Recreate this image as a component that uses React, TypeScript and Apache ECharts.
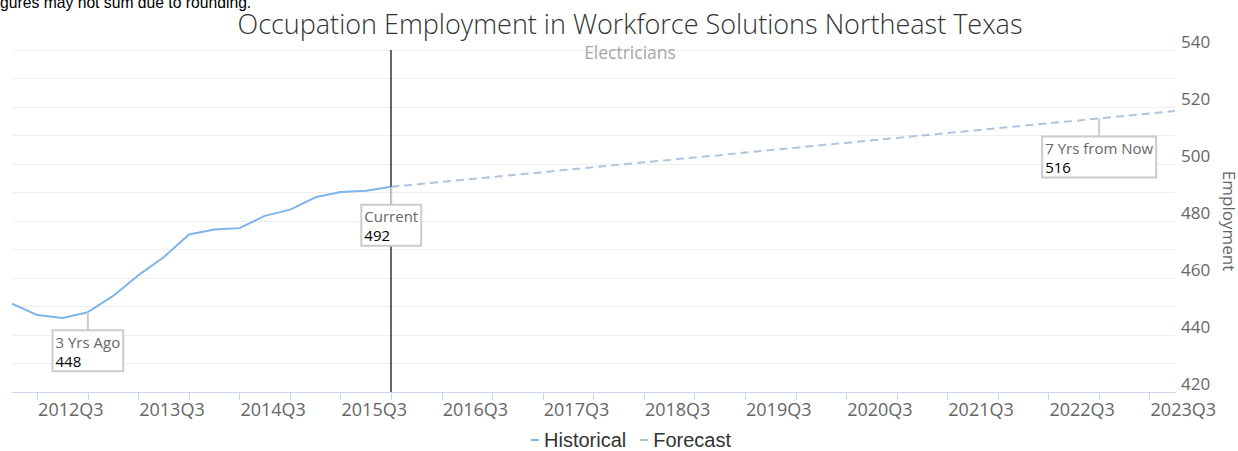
import React, { useEffect, useRef } from "react";
import * as echarts from "echarts";

const TITLE = "Occupation Employment in Workforce Solutions Northeast Texas";
const SUBTITLE = "Electricians";
const NOTE = "Figures may not sum due to rounding.";
const Y_NAME = "Employment";
const LEGEND_NAMES = ["Historical", "Forecast"];

// Quarters on the plotted axis (2011Q4 .. 2023Q2)
const categories = [
  "2011Q4",
  "2012Q1", "2012Q2", "2012Q3", "2012Q4",
  "2013Q1", "2013Q2", "2013Q3", "2013Q4",
  "2014Q1", "2014Q2", "2014Q3", "2014Q4",
  "2015Q1", "2015Q2", "2015Q3", "2015Q4",
  "2016Q1", "2016Q2", "2016Q3", "2016Q4",
  "2017Q1", "2017Q2", "2017Q3", "2017Q4",
  "2018Q1", "2018Q2", "2018Q3", "2018Q4",
  "2019Q1", "2019Q2", "2019Q3", "2019Q4",
  "2020Q1", "2020Q2", "2020Q3", "2020Q4",
  "2021Q1", "2021Q2", "2021Q3", "2021Q4",
  "2022Q1", "2022Q2", "2022Q3", "2022Q4",
  "2023Q1", "2023Q2",
];
// Tick-label axis runs one quarter further (its last label sits past the plot)
const labelCategories = [...categories, "2023Q3"];

// Historical employment, 2011Q4 .. 2015Q3
const historical = [451, 447, 446, 448, 453.7, 461, 467.3, 475.3, 477, 477.5, 481.8, 484, 488.3, 490.2, 490.6, 492];
// Forecast employment, 2015Q3 .. 2023Q2
const forecast = [
  492, 492.9, 493.7, 494.6, 495.4, 496.3, 497.1, 498, 498.9, 499.7, 500.6, 501.4, 502.3, 503.1, 504, 504.9,
  505.7, 506.6, 507.4, 508.3, 509.1, 510, 510.9, 511.7, 512.6, 513.4, 514.3, 515.1, 516, 516.9, 517.7, 518.6,
];

const Y_MIN = 420;
const Y_MAX = 540;
const Y_STEP = 20;

const FONT = "'Open Sans', sans-serif";
const ARIAL = "'Liberation Sans', Arial, sans-serif";

export default function App() {
  const ref = useRef<HTMLDivElement>(null);

  useEffect(() => {
    if (!ref.current) return;
    const chart = echarts.init(ref.current, null, { renderer: "svg" });

    const currentIdx = historical.length - 1;
    const threeAgoIdx = currentIdx - 12;
    const sevenAheadIdx = 28;

    const histData = categories.map((_, i) => (i < historical.length ? historical[i] : null));
    const fcData = categories.map((_, i) => {
      const k = i - currentIdx;
      return k >= 0 && k < forecast.length ? forecast[k] : null;
    });

    const calloutLabel = {
      show: true,
      position: "bottom",
      distance: 0,
      formatter: (p: any) => `{a|${p.name}}\n{b|${Math.round(p.value)}}`,
      backgroundColor: "#ffffff",
      borderColor: "#cccccc",
      borderWidth: 2,
      padding: [1, 2, 0, 2],
      rich: {
        a: { fontFamily: FONT, fontSize: 15, color: "#666666", lineHeight: 19, align: "left" },
        b: { fontFamily: FONT, fontSize: 15, color: "#000000", lineHeight: 19, align: "left" },
      },
    };

    const markPointBase = {
      symbol: "rect",
      symbolSize: [2, 19],
      symbolOffset: [0, 9.5],
      itemStyle: { color: "#cccccc" },
      label: calloutLabel,
      silent: true,
    };

    chart.setOption({
      animation: false,
      backgroundColor: "#ffffff",
      title: [
        {
          text: TITLE,
          left: 630,
          top: 9,
          padding: 0,
          textAlign: "center",
          textStyle: { fontFamily: FONT, fontSize: 27, lineHeight: 28, fontWeight: 300, color: "#333333" },
        },
        {
          text: SUBTITLE,
          left: 630,
          top: 43,
          padding: 0,
          textAlign: "center",
          textStyle: { fontFamily: FONT, fontSize: 17.5, lineHeight: 18, fontWeight: "normal", color: "#a6a6a6" },
        },
      ],
      graphic: [
        {
          type: "text",
          x: -13,
          y: 10,
          style: { text: NOTE, fontFamily: ARIAL, fontSize: 15.7, fill: "#000000", verticalAlign: "bottom" },
        },
      ],
      legend: {
        data: LEGEND_NAMES,
        top: 430,
        left: 531,
        padding: 0,
        icon: "rect",
        itemWidth: 8,
        itemHeight: 2,
        itemGap: 14,
        textStyle: { fontFamily: ARIAL, fontSize: 20, color: "#333333" },
      },
      grid: [
        { left: 12, right: 63, top: 50, bottom: 59, outerBoundsMode: "none", containLabel: false },
        { left: 12, right: 37.7, top: 50, bottom: 59, outerBoundsMode: "none", containLabel: false },
      ],
      xAxis: [
        {
          type: "category",
          gridIndex: 0,
          data: categories,
          boundaryGap: false,
          axisLine: { lineStyle: { color: "#ccd6eb", width: 1 } },
          axisTick: {
            show: true,
            length: 8,
            interval: (i: number) => i % 2 === 1,
            lineStyle: { color: "#ccd6eb" },
          },
          axisLabel: { show: false },
          splitLine: { show: false },
        },
        {
          type: "category",
          gridIndex: 1,
          data: labelCategories,
          boundaryGap: false,
          axisLine: { show: false },
          axisTick: { show: false },
          splitLine: { show: false },
          axisLabel: {
            interval: (_: number, v: string) => v.endsWith("Q3"),
            margin: 8,
            padding: [0, 34, 0, 0],
            fontFamily: FONT,
            fontSize: 18,
            color: "#666666",
          },
        },
      ],
      yAxis: [
        {
          type: "value",
          gridIndex: 0,
          position: "right",
          min: Y_MIN,
          max: Y_MAX,
          interval: Y_STEP,
          name: Y_NAME,
          nameLocation: "middle",
          nameRotate: -90,
          nameGap: 42,
          nameTextStyle: { fontFamily: FONT, fontSize: 17, color: "#666666" },
          axisLine: { show: false },
          axisTick: { show: false },
          axisLabel: { margin: 6, fontFamily: FONT, fontSize: 17, color: "#666666", verticalAlign: "bottom" },
          splitLine: { show: true, lineStyle: { color: "#eeeeee", width: 1 } },
          minorTick: { show: false, splitNumber: 2 },
          minorSplitLine: { show: true, lineStyle: { color: "#eeeeee", width: 1 } },
        },
        { type: "value", gridIndex: 1, show: false, min: Y_MIN, max: Y_MAX },
      ],
      series: [
        {
          name: LEGEND_NAMES[0],
          type: "line",
          xAxisIndex: 0,
          yAxisIndex: 0,
          data: histData,
          showSymbol: false,
          symbol: "none",
          lineStyle: { color: "#7cb5ec", width: 2 },
          itemStyle: { color: "#7cb5ec" },
          z: 3,
          markLine: {
            silent: true,
            symbol: "none",
            label: { show: false },
            lineStyle: { color: "#333333", width: 1.5, type: "solid" },
            data: [{ xAxis: categories[currentIdx] }],
          },
          markPoint: {
            ...markPointBase,
            data: [
              { name: "Current", coord: [categories[currentIdx], historical[currentIdx]], value: historical[currentIdx] },
              { name: "3 Yrs Ago", coord: [categories[threeAgoIdx], historical[threeAgoIdx]], value: historical[threeAgoIdx] },
            ],
          },
        },
        {
          name: LEGEND_NAMES[1],
          type: "line",
          xAxisIndex: 0,
          yAxisIndex: 0,
          data: fcData,
          showSymbol: false,
          symbol: "none",
          lineStyle: { color: "#b0c4de", width: 2, type: [8, 5] },
          itemStyle: { color: "#b0c4de" },
          z: 2,
          markPoint: {
            ...markPointBase,
            data: [
              {
                name: "7 Yrs from Now",
                coord: [categories[currentIdx + sevenAheadIdx], forecast[sevenAheadIdx]],
                value: forecast[sevenAheadIdx],
              },
            ],
          },
        },
      ],
    });

    return () => chart.dispose();
  }, []);

  return (
    <div
      ref={ref}
      style={{ position: "fixed", left: 0, top: 0, width: 1238, height: 451, background: "#fff" }}
    />
  );
}
